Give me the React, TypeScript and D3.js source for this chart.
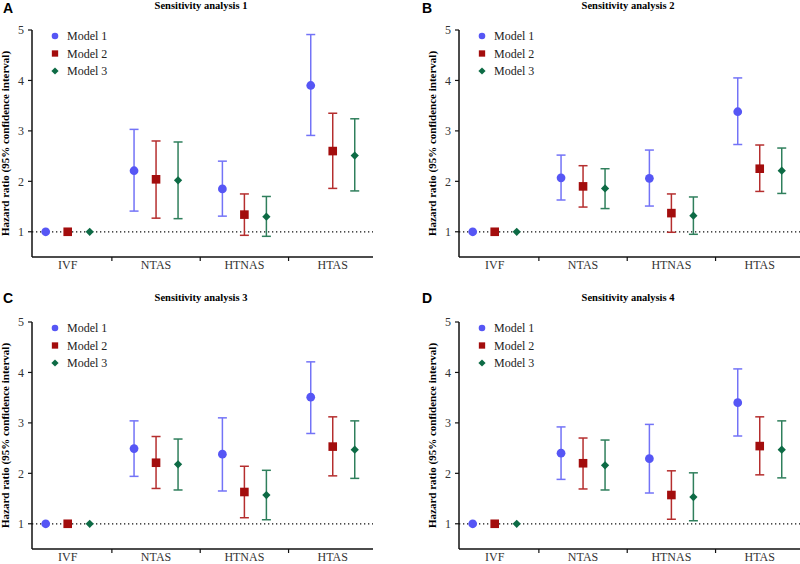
import * as d3 from 'd3';

const groups = ['IVF', 'NTAS', 'HTNAS', 'HTAS'];
const models = ['Model 1', 'Model 2', 'Model 3'];
const yTicks = [1, 2, 3, 4, 5];
const titles = ['Sensitivity analysis 1', 'Sensitivity analysis 2', 'Sensitivity analysis 3', 'Sensitivity analysis 4'];
const letters = ['A', 'B', 'C', 'D'];

// [hazard ratio, lower 95% CI, upper 95% CI] for each group
const sa1Model1 = [[1, 1, 1], [2.21, 1.41, 3.03], [1.85, 1.31, 2.4], [3.9, 2.91, 4.91]];
const sa1Model2 = [[1, 1, 1], [2.04, 1.27, 2.8], [1.34, 0.93, 1.75], [2.6, 1.86, 3.35]];
const sa1Model3 = [[1, 1, 1], [2.02, 1.26, 2.78], [1.3, 0.91, 1.7], [2.51, 1.81, 3.24]];

const sa2Model1 = [[1, 1, 1], [2.07, 1.63, 2.52], [2.06, 1.51, 2.62], [3.38, 2.73, 4.05]];
const sa2Model2 = [[1, 1, 1], [1.9, 1.49, 2.31], [1.37, 0.99, 1.75], [2.25, 1.8, 2.72]];
const sa2Model3 = [[1, 1, 1], [1.86, 1.46, 2.25], [1.32, 0.95, 1.69], [2.21, 1.76, 2.66]];

const sa3Model1 = [[1, 1, 1], [2.49, 1.94, 3.04], [2.38, 1.65, 3.1], [3.51, 2.79, 4.21]];
const sa3Model2 = [[1, 1, 1], [2.21, 1.7, 2.73], [1.63, 1.12, 2.14], [2.53, 1.95, 3.12]];
const sa3Model3 = [[1, 1, 1], [2.18, 1.67, 2.68], [1.57, 1.08, 2.06], [2.47, 1.9, 3.04]];

const sa4Model1 = [[1, 1, 1], [2.4, 1.88, 2.92], [2.29, 1.61, 2.97], [3.4, 2.74, 4.07]];
const sa4Model2 = [[1, 1, 1], [2.2, 1.69, 2.7], [1.57, 1.09, 2.05], [2.54, 1.97, 3.12]];
const sa4Model3 = [[1, 1, 1], [2.16, 1.67, 2.66], [1.53, 1.06, 2.01], [2.47, 1.91, 3.04]];

const panelData = [
  [sa1Model1, sa1Model2, sa1Model3],
  [sa2Model1, sa2Model2, sa2Model3],
  [sa3Model1, sa3Model2, sa3Model3],
  [sa4Model1, sa4Model2, sa4Model3],
];

const markerColors = ['#5656f5', '#a30d0d', '#0d6b45'];
const lineColors = ['#7373f7', '#b52e2e', '#2f7f5c'];

// layout of the 4 panels
const panels = [
  { axisX: 32, top: 30, lx: 3, ly: 13 },
  { axisX: 459, top: 30, lx: 422, ly: 13 },
  { axisX: 32, top: 322, lx: 3, ly: 303 },
  { axisX: 459, top: 322, lx: 422, ly: 303 },
];

const W = 341;
const H = 227;
const serif = "'Liberation Serif', 'Times New Roman', serif";

const x = d3.scalePoint().domain(groups).range([0, W]).padding(0.43).align(0.47);
const xm = d3.scalePoint().domain(models).range([-22, 22]);
const y = d3.scaleLinear().domain([0.5, 5]).range([H, 0]);

const bigSymbols = [
  d3.symbol(d3.symbolCircle, 60)(),
  d3.symbol(d3.symbolSquare, 74)(),
  d3.symbol(d3.symbolSquare, 34)(),
];
const smallSymbols = [
  d3.symbol(d3.symbolCircle, 34)(),
  d3.symbol(d3.symbolSquare, 40)(),
  d3.symbol(d3.symbolSquare, 26)(),
];
const rot = (i) => (i === 2 ? ' rotate(45)' : '');

const Panel = ({ idx }) => {
  const p = panels[idx];
  const series = panelData[idx];
  const step = x.step();
  const boundaries = groups.slice(0, -1).map((g) => x(g) + step / 2);
  return (
    <g>
      <text x={p.lx} y={p.ly} fontFamily="'Liberation Sans', Arial, sans-serif" fontWeight="bold" fontSize={14}>
        {letters[idx]}
      </text>
      <g transform={`translate(${p.axisX},${p.top})`}>
        <text x={169} y={-21} textAnchor='middle' fontFamily={serif} fontWeight='bold' fontSize={10.5}>
          {titles[idx]}
        </text>
        <text
          transform={`translate(-23,${H / 2}) rotate(-90)`}
          textAnchor='middle'
          fontFamily={serif}
          fontWeight='bold'
          fontSize={11}
        >
          Hazard ratio (95% confidence interval)
        </text>
        {/* reference line at HR = 1 */}
        <line x1={0} x2={W} y1={y(1)} y2={y(1)} stroke='#111' strokeWidth={1.3} strokeDasharray='1.3 2.7' />
        {/* y axis */}
        <line x1={0} x2={0} y1={0} y2={H} stroke='#111' strokeWidth={1.5} />
        {yTicks.map((t) => (
          <g key={t} transform={`translate(0,${y(t)})`}>
            <line x1={-4} x2={0} stroke='#111' strokeWidth={1.2} />
            <text x={-8} dy='0.35em' textAnchor='end' fontFamily={serif} fontSize={12} fill='#333'>
              {t}
            </text>
          </g>
        ))}
        {/* x axis */}
        <line x1={0} x2={W} y1={H} y2={H} stroke='#111' strokeWidth={1.5} />
        {boundaries.map((b, i) => (
          <line key={i} x1={b} x2={b} y1={H} y2={H + 4} stroke='#111' strokeWidth={1.2} />
        ))}
        {groups.map((g) => (
          <text key={g} x={x(g)} y={H + 11.5} textAnchor='middle' fontFamily={serif} fontSize={12} fill='#333'>
            {g}
          </text>
        ))}
        {/* error bars */}
        {series.map((rows, m) =>
          rows.map(([hr, lo, hi], gi) => {
            if (hi - lo < 0.01) return null;
            const cx = x(groups[gi]) + xm(models[m]);
            return (
              <g key={`e${m}-${gi}`} stroke={lineColors[m]} strokeWidth={1.5}>
                <line x1={cx} x2={cx} y1={y(lo)} y2={y(hi)} />
                <line x1={cx - 4.5} x2={cx + 4.5} y1={y(lo)} y2={y(lo)} />
                <line x1={cx - 4.5} x2={cx + 4.5} y1={y(hi)} y2={y(hi)} />
              </g>
            );
          }),
        )}
        {/* point estimates */}
        {series.map((rows, m) =>
          rows.map(([hr], gi) => {
            const cx = x(groups[gi]) + xm(models[m]);
            return (
              <path
                key={`p${m}-${gi}`}
                d={bigSymbols[m]}
                transform={`translate(${cx},${y(hr)})${rot(m)}`}
                fill={markerColors[m]}
              />
            );
          }),
        )}
        {/* legend */}
        {models.map((name, m) => (
          <g key={name} transform={`translate(23,${6 + m * 17.5})`}>
            <path d={smallSymbols[m]} transform={rot(m).trim()} fill={markerColors[m]} />
            <text x={12} dy='0.35em' fontFamily={serif} fontSize={12} fill='#222'>
              {name}
            </text>
          </g>
        ))}
      </g>
    </g>
  );
};

export default function App() {
  return (
    <svg
      width={800}
      height={564}
      style={{ position: 'fixed', left: 0, top: 0, background: '#fff' }}
    >
      {panels.map((_, i) => (
        <Panel key={i} idx={i} />
      ))}
    </svg>
  );
}
